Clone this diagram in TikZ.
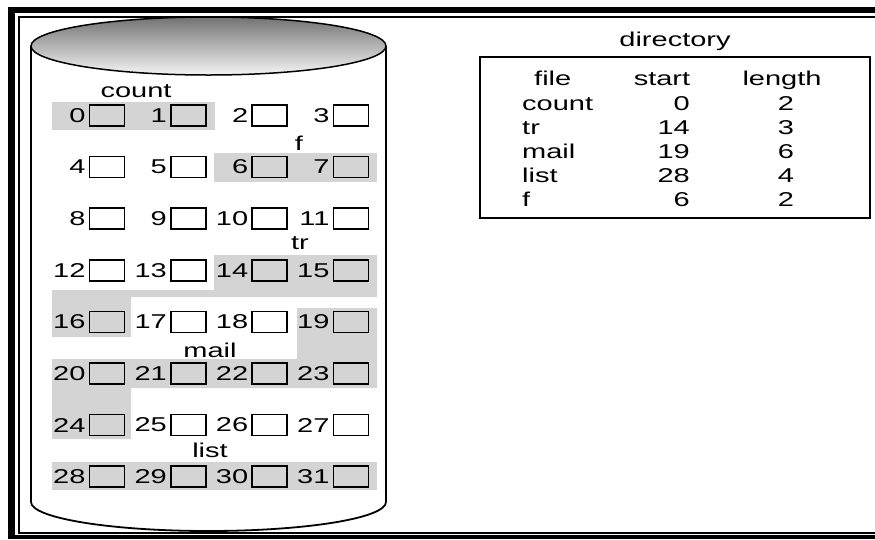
\documentclass[tikz,border=0pt]{standalone}
\usepackage{fontspec}
\setmainfont{Liberation Sans}[FakeStretch=1.45]
\usepackage{tikz}
\usetikzlibrary{positioning}
\definecolor{blkgray}{gray}{0.83}

\begin{document}
\begin{tikzpicture}[x=1pt, y=-1pt,
    every node/.style={font=\fontsize{20}{24}\selectfont, inner sep=0pt},
    blk/.style={draw, line width=1.6pt, minimum width=35pt, minimum height=21pt}]
        \useasboundingbox (0,0) rectangle (875,539);
        % frame
        \fill (8,7) rectangle (875,13);
        \fill (8,7) rectangle (15,539);
        \fill (8,535) rectangle (875,539);
        \draw[line width=1.5pt] (875,17) -- (19,17) -- (19,533) -- (875,533);
        % shaded extents of the files
        \fill[blkgray] (52,102) rectangle (215,130);
        \fill[blkgray] (214,153) rectangle (377,182);
        \fill[blkgray] (214,255) -- (377,255) -- (377,297) -- (131,297) -- (131,337) -- (52,337) -- (52,290) -- (214,290) -- cycle;
        \fill[blkgray] (297,308) -- (377,308) -- (377,388) -- (131,388) -- (131,439) -- (52,439) -- (52,359) -- (297,359) -- cycle;
        \fill[blkgray] (52,462) rectangle (377,490);
        % disk
        \draw[line width=1.8pt] (31,46) -- (31,502) arc[start angle=180, end angle=0, x radius=177.5, y radius=29] -- (386,46);
        \shadedraw[top color=black!55, bottom color=black!4, line width=1.5pt] (208.5,46) ellipse [x radius=177.5, y radius=29];
        % blocks
        \foreach \i in {0,...,31} {
            \pgfmathtruncatemacro{\col}{mod(\i,4)}
            \pgfmathtruncatemacro{\row}{div(\i,4)}
            \node[blk] (b\i) at ({107+81.33*\col},{115.5+51.6*\row}) {};
            \node[left=3pt of b\i] (n\i) {\i};
        }
        \node[anchor=base] (lcount) at (136,97) {count};
        \node[anchor=base] (lf) at (299,150) {f};
        \node[anchor=base] (ltr) at (300,249) {tr};
        \node[anchor=base] (lmail) at (210,357) {mail};
        \node[anchor=base] (llist) at (210,457) {list};
        % directory
        \node[draw, line width=2pt, minimum width=390pt, minimum height=161pt] (dir) at (675,137.5) {};
        \node[anchor=base] (dirt) at (675,46) {directory};
        \node[anchor=base west] (hfile) at (534,85) {file};
        \node[anchor=base] (hstart) at (662,85) {start};
        \node[anchor=base] (hlen) at (782,85) {length};
        \foreach \f/\s/\l [count=\k] in {count/0/2, tr/14/3, mail/19/6, list/28/4, f/6/2} {
            \node[anchor=base west] (f\k) at (522,{86+24*\k}) {\f};
            \node[anchor=base east] (s\k) at (690,{86+24*\k}) {\s};
            \node[anchor=base] (l\k) at (786,{86+24*\k}) {\l};
        }
    \end{tikzpicture}
\end{document}
